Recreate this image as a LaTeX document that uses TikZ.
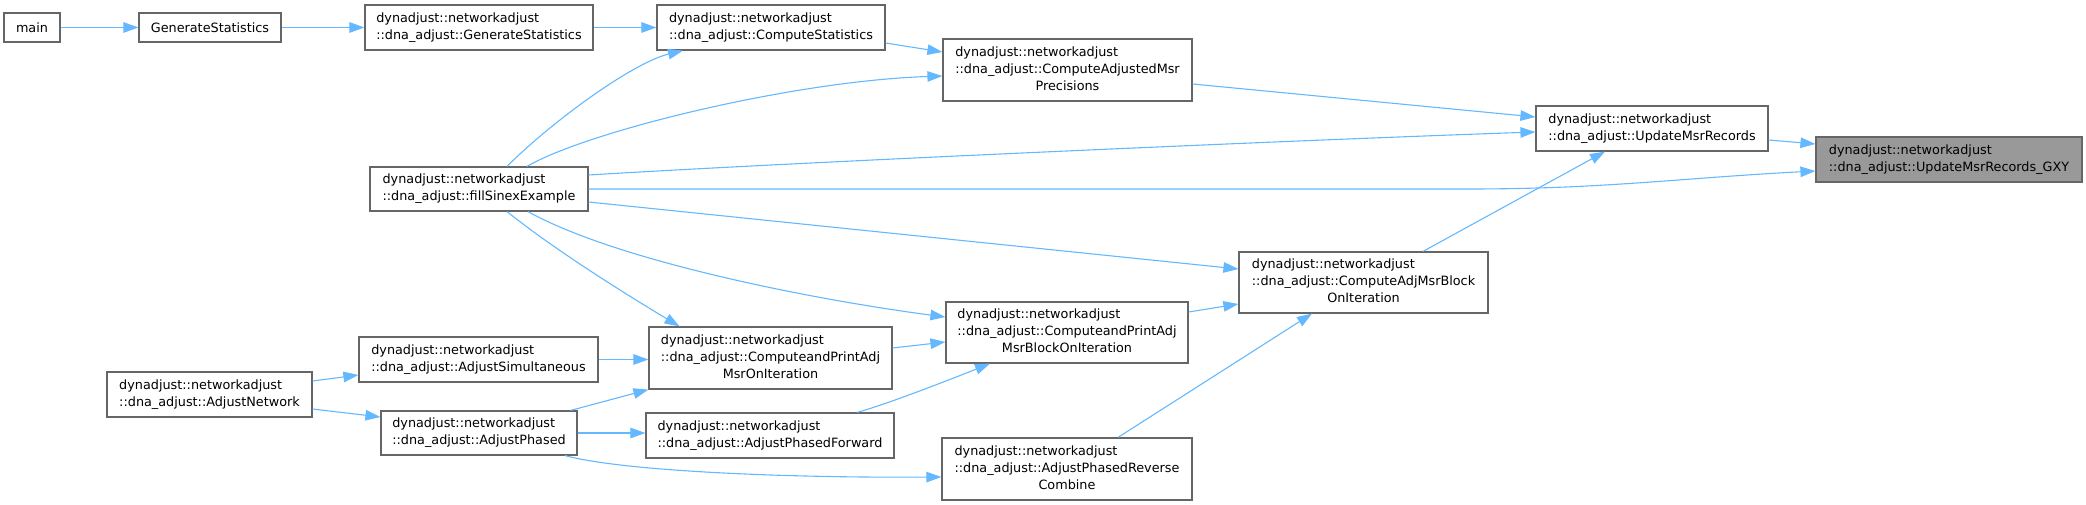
\documentclass[tikz,border=0pt]{standalone}
\usepackage{fontspec}
\setmainfont{DejaVu Sans}
\usepackage{xcolor}
\usepackage{tikz}
\usetikzlibrary{arrows.meta,calc}
\definecolor{edgeblue}{HTML}{63B8FF}
\definecolor{boxgray}{HTML}{666666}
\definecolor{curgray}{HTML}{999999}
\newcommand{\twoline}[2]{\begin{tabular}{@{}l@{}}#1\\#2\end{tabular}}
\newcommand{\threeline}[3]{\begin{tabular}{@{}l@{}}#1\\#2\\\multicolumn{1}{@{}c@{}}{#3}\end{tabular}}
\tikzstyle{func} = [rectangle, draw=boxgray, fill=white, line width=1.2pt, inner sep=0pt, font=\fontsize{12.8}{17}\selectfont]

\begin{document}
\begin{tikzpicture}[x=1pt, y=-1pt]
    \tikzstyle{current} = [func, fill=curgray]
    \tikzstyle{calls} = [draw=edgeblue, line width=1.1pt, -{Triangle[length=15pt,width=10.5pt]}]
    \useasboundingbox (0,0) rectangle (2086,505);
    \node[func, minimum width=56pt, minimum height=29pt] (main) at (32,27.5) {main};
    \node[func, minimum width=142pt, minimum height=29pt] (genstat) at (210,27.5) {GenerateStatistics};
    \node[func, minimum width=228pt, minimum height=45pt] (gsadj) at (479,27.5) {\twoline{dynadjust::networkadjust}{::dna\_adjust::GenerateStatistics}};
    \node[func, minimum width=228pt, minimum height=45pt] (compstat) at (771,27.5) {\twoline{dynadjust::networkadjust}{::dna\_adjust::ComputeStatistics}};
    \node[func, minimum width=249pt, minimum height=62pt] (campp) at (1067.5,70) {\threeline{dynadjust::networkadjust}{::dna\_adjust::ComputeAdjustedMsr}{Precisions}};
    \node[func, minimum width=232pt, minimum height=45pt] (umr) at (1652,128.5) {\twoline{dynadjust::networkadjust}{::dna\_adjust::UpdateMsrRecords}};
    \node[current, minimum width=266pt, minimum height=45pt] (gxy) at (1949,159.5) {\twoline{dynadjust::networkadjust}{::dna\_adjust::UpdateMsrRecords\_GXY}};
    \node[func, minimum width=218pt, minimum height=44pt] (fse) at (479,189) {\twoline{dynadjust::networkadjust}{::dna\_adjust::fillSinexExample}};
    \node[func, minimum width=249pt, minimum height=61pt] (camboi) at (1363.5,282.5) {\threeline{dynadjust::networkadjust}{::dna\_adjust::ComputeAdjMsrBlock}{OnIteration}};
    \node[func, minimum width=242pt, minimum height=61pt] (cpamboi) at (1067,332.5) {\threeline{dynadjust::networkadjust}{::dna\_adjust::ComputeandPrintAdj}{MsrBlockOnIteration}};
    \node[func, minimum width=243pt, minimum height=62pt] (cpamoi) at (770.5,358) {\threeline{dynadjust::networkadjust}{::dna\_adjust::ComputeandPrintAdj}{MsrOnIteration}};
    \node[func, minimum width=239pt, minimum height=45pt] (adjsim) at (478.5,359.5) {\twoline{dynadjust::networkadjust}{::dna\_adjust::AdjustSimultaneous}};
    \node[func, minimum width=205pt, minimum height=45pt] (adjnet) at (209.5,394.5) {\twoline{dynadjust::networkadjust}{::dna\_adjust::AdjustNetwork}};
    \node[func, minimum width=196pt, minimum height=44pt] (adjph) at (479,433) {\twoline{dynadjust::networkadjust}{::dna\_adjust::AdjustPhased}};
    \node[func, minimum width=248pt, minimum height=45pt] (adjfwd) at (770,435.5) {\twoline{dynadjust::networkadjust}{::dna\_adjust::AdjustPhasedForward}};
    \node[func, minimum width=250pt, minimum height=62pt] (adjrev) at (1067,469) {\threeline{dynadjust::networkadjust}{::dna\_adjust::AdjustPhasedReverse}{Combine}};

    \draw[calls] (main) -- (genstat);
    \draw[calls] (genstat) -- (gsadj);
    \draw[calls] (gsadj) -- (compstat);
    \draw[calls] ([yshift=-15.5pt]compstat.east) -- ([yshift=18pt]campp.west);
    \draw[calls] ([xshift=28pt]fse.north) .. controls +(45,-45) and +(-50,12) .. ([xshift=-88pt]compstat.south);
    \draw[calls] ([xshift=48pt]fse.north) .. controls +(60,-35) and +(-150,5) .. ([yshift=-6pt]campp.west);
    \draw[calls] ([yshift=14pt]fse.east) .. controls +(212,-13) and +(-236,8) .. ([yshift=-3.5pt]umr.west);
    \draw[calls] (fse.east) -- ++(880,0) to[out=0,in=183] ([yshift=-11.5pt]gxy.west);
    \draw[calls] ([yshift=-13pt]fse.east) -- ([yshift=13.5pt]camboi.west);
    \draw[calls] ([xshift=49pt]fse.south) .. controls +(90,50) and +(-130,-17) .. ([yshift=15.5pt]cpamboi.west);
    \draw[calls] ([xshift=28pt]fse.south) .. controls +(50,40) and +(-50,-30) .. ([xshift=-91pt]cpamoi.north);
    \draw[calls] ([yshift=-11.5pt]umr.east) -- ([yshift=15.5pt]gxy.west);
    \draw[calls] ([yshift=-14pt]campp.east) -- ([yshift=11.5pt]umr.west);
    \draw[calls] ([xshift=59.5pt]camboi.north) -- ([xshift=-47pt]umr.south);
    \draw[calls] ([yshift=20.5pt]cpamboi.east) -- ([yshift=-21.5pt]camboi.west);
    \draw[calls] ([yshift=10pt]cpamoi.east) -- ([yshift=-9.5pt]cpamboi.west);
    \draw[calls] (adjsim.east) -- (adjsim.east -| cpamoi.west);
    \draw[calls] ([yshift=13.5pt]adjnet.east) -- ([yshift=-15.5pt]adjsim.west);
    \draw[calls] ([yshift=-14.5pt]adjnet.east) -- ([yshift=16pt]adjph.west);
    \draw[calls] ([xshift=-7pt]adjph.north east) -- (cpamoi.south west);
    \draw[calls] (adjph.east) -- (adjph.east -| adjfwd.west);
    \draw[calls] ([xshift=86pt]adjph.south) .. controls +(60,16) and +(-150,1) .. ([yshift=-8pt]adjrev.west);
    \draw[calls] ([xshift=87pt]adjfwd.north) .. controls +(30,-8) and +(-30,12) .. ([xshift=-77pt]cpamboi.south);
    \draw[calls] ([xshift=51pt]adjrev.north) -- ([xshift=-51.5pt]camboi.south);
\end{tikzpicture}
\end{document}
